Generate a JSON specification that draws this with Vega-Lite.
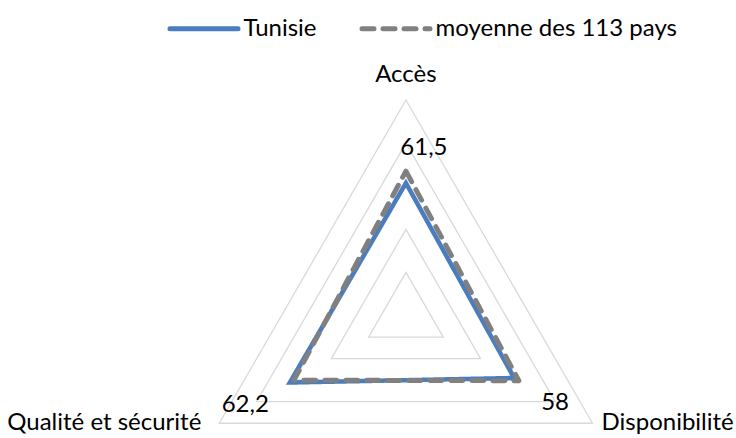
{
  "$schema": "https://vega.github.io/schema/vega-lite/v6.json",
  "width": 736,
  "height": 438,
  "autosize": {"type": "none"},
  "padding": 0,
  "background": "white",
  "config": {
    "view": {"stroke": null},
    "font": "Lato",
    "locale": {"number": {"decimal": ",", "thousands": " ", "grouping": [3], "currency": ["", " €"]}}
  },
  "datasets": {
    "series": [
      {"serie": "Tunisie", "axe": "Accès", "valeur": 61.5},
      {"serie": "Tunisie", "axe": "Disponibilité", "valeur": 58},
      {"serie": "Tunisie", "axe": "Qualité et sécurité", "valeur": 62.2},
      {"serie": "moyenne des 113 pays", "axe": "Accès", "valeur": 67},
      {"serie": "moyenne des 113 pays", "axe": "Disponibilité", "valeur": 60.5},
      {"serie": "moyenne des 113 pays", "axe": "Qualité et sécurité", "valeur": 60}
    ],
    "grille": [
      {"niveau": 20, "axe": "Accès"}, {"niveau": 20, "axe": "Disponibilité"}, {"niveau": 20, "axe": "Qualité et sécurité"},
      {"niveau": 40, "axe": "Accès"}, {"niveau": 40, "axe": "Disponibilité"}, {"niveau": 40, "axe": "Qualité et sécurité"},
      {"niveau": 60, "axe": "Accès"}, {"niveau": 60, "axe": "Disponibilité"}, {"niveau": 60, "axe": "Qualité et sécurité"},
      {"niveau": 80, "axe": "Accès"}, {"niveau": 80, "axe": "Disponibilité"}, {"niveau": 80, "axe": "Qualité et sécurité"},
      {"niveau": 100, "axe": "Accès"}, {"niveau": 100, "axe": "Disponibilité"}, {"niveau": 100, "axe": "Qualité et sécurité"}
    ],
    "axes": [
      {"axe": "Accès"},
      {"axe": "Disponibilité"},
      {"axe": "Qualité et sécurité"}
    ]
  },
  "layer": [
    {
      "data": {"name": "grille"},
      "transform": [
        {"calculate": "datum.axe === 'Accès' ? 0 : (datum.axe === 'Disponibilité' ? 2*PI/3 : 4*PI/3)", "as": "ang"},
        {"calculate": "datum.niveau * sin(datum.ang)", "as": "px"},
        {"calculate": "datum.niveau * cos(datum.ang)", "as": "py"}
      ],
      "mark": {"type": "line", "interpolate": "linear-closed", "stroke": "#D9D9D9", "strokeWidth": 1.3},
      "encoding": {
        "x": {"field": "px", "type": "quantitative", "scale": {"domain": [-188.4, 153.2], "nice": false, "zero": false}, "axis": null},
        "y": {"field": "py", "type": "quantitative", "scale": {"domain": [-56.84, 146.4], "nice": false, "zero": false}, "axis": null},
        "detail": {"field": "niveau", "type": "nominal"},
        "order": {"field": "ang", "type": "quantitative"}
      }
    },
    {
      "data": {"name": "series"},
      "transform": [
        {"filter": "datum.serie === 'Tunisie'"},
        {"calculate": "datum.axe === 'Accès' ? 0 : (datum.axe === 'Disponibilité' ? 2*PI/3 : 4*PI/3)", "as": "ang"},
        {"calculate": "datum.valeur * sin(datum.ang)", "as": "px"},
        {"calculate": "datum.valeur * cos(datum.ang)", "as": "py"}
      ],
      "mark": {"type": "line", "interpolate": "linear-closed", "strokeWidth": 4.5, "strokeJoin": "miter"},
      "encoding": {
        "x": {"field": "px", "type": "quantitative", "axis": null},
        "y": {"field": "py", "type": "quantitative", "axis": null},
        "order": {"field": "ang", "type": "quantitative"},
        "color": {
          "field": "serie", "type": "nominal",
          "scale": {"domain": ["Tunisie", "moyenne des 113 pays"], "range": ["#4A7DBF", "#808080"]},
          "legend": {
            "orient": "none", "legendX": 167.5, "legendY": -8, "direction": "horizontal", "title": null,
            "symbolType": "stroke", "symbolSize": 4624, "symbolStrokeWidth": 5,
            "labelFontSize": 24, "labelFont": "Lato", "labelColor": "#000000", "labelOffset": 3, "labelLimit": 0, "columnPadding": 34,
            "encode": {"symbols": {"update": {"strokeCap": {"value": "round"}}}}
          }
        },
        "strokeDash": {
          "field": "serie", "type": "nominal",
          "scale": {"domain": ["Tunisie", "moyenne des 113 pays"], "range": [[1, 0], [12, 9]]},
          "legend": {
            "orient": "none", "legendX": 167.5, "legendY": -8, "direction": "horizontal", "title": null,
            "symbolType": "stroke", "symbolSize": 4624, "symbolStrokeWidth": 5,
            "labelFontSize": 24, "labelFont": "Lato", "labelColor": "#000000", "labelOffset": 3, "labelLimit": 0, "columnPadding": 34,
            "encode": {"symbols": {"update": {"strokeCap": {"value": "round"}}}}
          }
        }
      }
    },
    {
      "data": {"name": "series"},
      "transform": [
        {"filter": "datum.serie !== 'Tunisie'"},
        {"calculate": "datum.axe === 'Accès' ? 0 : (datum.axe === 'Disponibilité' ? 2*PI/3 : 4*PI/3)", "as": "ang"},
        {"calculate": "datum.valeur * sin(datum.ang)", "as": "px"},
        {"calculate": "datum.valeur * cos(datum.ang)", "as": "py"}
      ],
      "mark": {"type": "line", "interpolate": "linear-closed", "strokeWidth": 5, "strokeCap": "round", "strokeJoin": "round"},
      "encoding": {
        "x": {"field": "px", "type": "quantitative", "axis": null},
        "y": {"field": "py", "type": "quantitative", "axis": null},
        "order": {"field": "ang", "type": "quantitative"},
        "color": {"field": "serie", "type": "nominal"},
        "strokeDash": {"field": "serie", "type": "nominal"}
      }
    },
    {
      "data": {"name": "series"},
      "transform": [
        {"filter": "datum.serie === 'Tunisie' && datum.axe === 'Accès'"},
        {"calculate": "0", "as": "ang"},
        {"calculate": "datum.valeur * sin(datum.ang)", "as": "px"},
        {"calculate": "datum.valeur * cos(datum.ang)", "as": "py"}
      ],
      "mark": {"type": "text", "font": "Lato", "fontSize": 24, "color": "#000000", "align": "center", "baseline": "alphabetic", "dx": 18, "dy": -28},
      "encoding": {
        "x": {"field": "px", "type": "quantitative", "axis": null},
        "y": {"field": "py", "type": "quantitative", "axis": null},
        "text": {"field": "valeur", "type": "quantitative", "format": "~g"}
      }
    },
    {
      "data": {"name": "series"},
      "transform": [
        {"filter": "datum.serie === 'Tunisie' && datum.axe === 'Qualité et sécurité'"},
        {"calculate": "4*PI/3", "as": "ang"},
        {"calculate": "datum.valeur * sin(datum.ang)", "as": "px"},
        {"calculate": "datum.valeur * cos(datum.ang)", "as": "py"}
      ],
      "mark": {"type": "text", "font": "Lato", "fontSize": 24, "color": "#000000", "align": "right", "baseline": "alphabetic", "dx": -21, "dy": 29},
      "encoding": {
        "x": {"field": "px", "type": "quantitative", "axis": null},
        "y": {"field": "py", "type": "quantitative", "axis": null},
        "text": {"field": "valeur", "type": "quantitative", "format": "~g"}
      }
    },
    {
      "data": {"name": "series"},
      "transform": [
        {"filter": "datum.serie === 'Tunisie' && datum.axe === 'Disponibilité'"},
        {"calculate": "2*PI/3", "as": "ang"},
        {"calculate": "datum.valeur * sin(datum.ang)", "as": "px"},
        {"calculate": "datum.valeur * cos(datum.ang)", "as": "py"}
      ],
      "mark": {"type": "text", "font": "Lato", "fontSize": 24, "color": "#000000", "align": "left", "baseline": "alphabetic", "dx": 27, "dy": 32},
      "encoding": {
        "x": {"field": "px", "type": "quantitative", "axis": null},
        "y": {"field": "py", "type": "quantitative", "axis": null},
        "text": {"field": "valeur", "type": "quantitative", "format": "~g"}
      }
    },
    {
      "data": {"name": "axes"},
      "transform": [
        {"filter": "datum.axe === 'Accès'"},
        {"calculate": "0", "as": "px"},
        {"calculate": "100", "as": "py"}
      ],
      "mark": {"type": "text", "font": "Lato", "fontSize": 24, "color": "#000000", "align": "center", "baseline": "alphabetic", "dy": -18},
      "encoding": {
        "x": {"field": "px", "type": "quantitative", "axis": null},
        "y": {"field": "py", "type": "quantitative", "axis": null},
        "text": {"field": "axe", "type": "nominal"}
      }
    },
    {
      "data": {"name": "axes"},
      "transform": [
        {"filter": "datum.axe === 'Qualité et sécurité'"},
        {"calculate": "100 * sin(4*PI/3)", "as": "px"},
        {"calculate": "100 * cos(4*PI/3)", "as": "py"}
      ],
      "mark": {"type": "text", "font": "Lato", "fontSize": 24, "color": "#000000", "align": "right", "baseline": "alphabetic", "dx": -18, "dy": 7},
      "encoding": {
        "x": {"field": "px", "type": "quantitative", "axis": null},
        "y": {"field": "py", "type": "quantitative", "axis": null},
        "text": {"field": "axe", "type": "nominal"}
      }
    },
    {
      "data": {"name": "axes"},
      "transform": [
        {"filter": "datum.axe === 'Disponibilité'"},
        {"calculate": "100 * sin(2*PI/3)", "as": "px"},
        {"calculate": "100 * cos(2*PI/3)", "as": "py"}
      ],
      "mark": {"type": "text", "font": "Lato", "fontSize": 24, "color": "#000000", "align": "left", "baseline": "alphabetic", "dx": 9, "dy": 7},
      "encoding": {
        "x": {"field": "px", "type": "quantitative", "axis": null},
        "y": {"field": "py", "type": "quantitative", "axis": null},
        "text": {"field": "axe", "type": "nominal"}
      }
    }
  ]
}
